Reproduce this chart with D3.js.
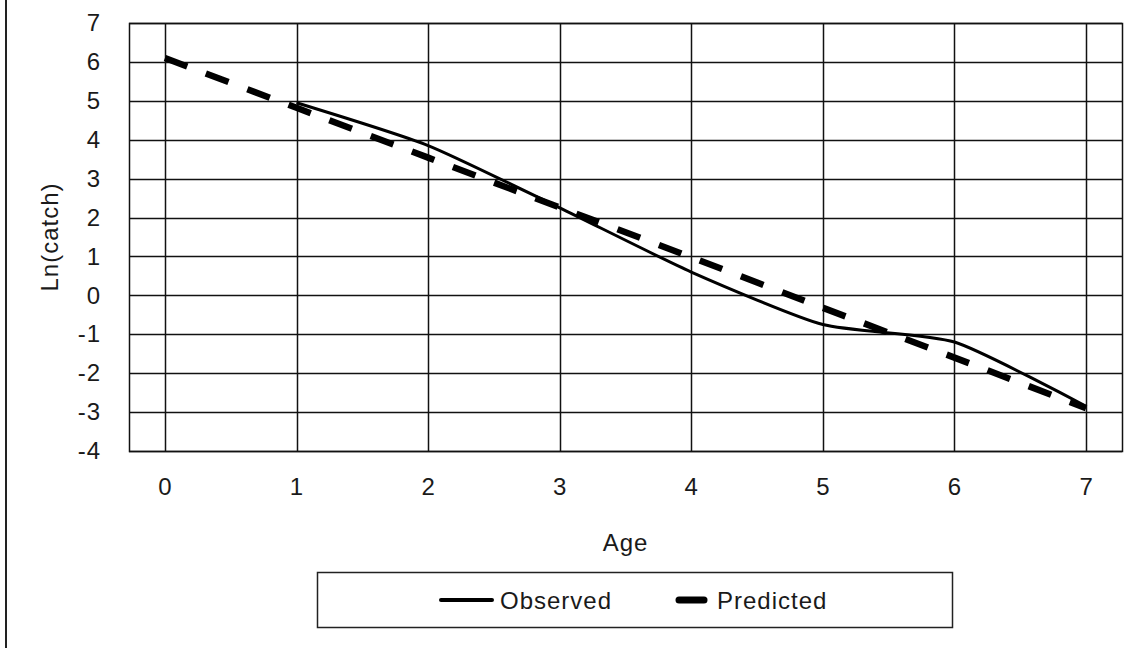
<!DOCTYPE html>
<html>
<head>
<meta charset="utf-8">
<script src="https://cdn.jsdelivr.net/npm/d3@7"></script>
<style>
  html, body { margin: 0; padding: 0; background: #fff; }
  svg { display: block; }
  text { font-family: "Liberation Sans", Arial, sans-serif; fill: #1a1a1a; }
</style>
</head>
<body>
<svg id="chart" width="1143" height="648"></svg>
<script>
// Age classes and log catch values
const ages = [0, 1, 2, 3, 4, 5, 6, 7];
const observedAges = [1, 2, 3, 4, 5, 6, 7];
const observed = [4.95, 3.85, 2.25, 0.6, -0.75, -1.2, -2.85];
const predicted = [6.1, 4.82, 3.54, 2.26, 0.98, -0.32, -1.6, -2.9];
const yTicks = [7, 6, 5, 4, 3, 2, 1, 0, -1, -2, -3, -4];
const xTicks = [0, 1, 2, 3, 4, 5, 6, 7];
const seriesNames = ["Observed", "Predicted"];

const svg = d3.select("#chart");
const W = 1143, H = 648;
const plot = { left: 129, top: 23, right: 1122, bottom: 451 };
const FONT = "24px";
const SPACING = "1px";

const x = d3.scaleLinear().domain([-0.273, 7.273]).range([plot.left, plot.right]);
const y = d3.scaleLinear().domain([-4, 7]).range([plot.bottom, plot.top]);

// outer chart frame (only its left edge falls inside the view)
svg.append("rect")
  .attr("x", 6).attr("y", -10).attr("width", W + 20).attr("height", H + 20)
  .attr("fill", "none").attr("stroke", "#222").attr("stroke-width", 2);

// grid lines
const grid = svg.append("g").attr("stroke", "#111").attr("stroke-width", 1.5);
grid.selectAll("line.h").data(yTicks).join("line")
  .attr("class", "h")
  .attr("x1", plot.left).attr("x2", plot.right)
  .attr("y1", d => Math.round(y(d)) + 0.5).attr("y2", d => Math.round(y(d)) + 0.5);
grid.selectAll("line.v").data(xTicks).join("line")
  .attr("class", "v")
  .attr("y1", plot.top).attr("y2", plot.bottom)
  .attr("x1", d => Math.round(x(d)) + 0.5).attr("x2", d => Math.round(x(d)) + 0.5);

// plot area border
svg.append("rect")
  .attr("x", plot.left + 0.5).attr("y", plot.top + 0.5)
  .attr("width", plot.right - plot.left).attr("height", plot.bottom - plot.top)
  .attr("fill", "none").attr("stroke", "#111").attr("stroke-width", 1.5);

const plainNumber = d => String(d);

// y tick labels
const yAxis = d3.axisLeft(y).tickValues(yTicks).tickSize(0).tickPadding(0).tickFormat(plainNumber);
const gy = svg.append("g").attr("transform", `translate(101,0)`).call(yAxis);
gy.select(".domain").remove();
gy.selectAll("text")
  .style("font-size", FONT).style("letter-spacing", SPACING)
  .style("font-family", "'Liberation Sans', Arial, sans-serif").attr("fill", "#1a1a1a");

// x tick labels
const xAxis = d3.axisBottom(x).tickValues(xTicks).tickSize(0).tickPadding(0).tickFormat(plainNumber);
const gx = svg.append("g").attr("transform", `translate(0,478)`).call(xAxis);
gx.select(".domain").remove();
gx.selectAll("text")
  .style("font-size", FONT).style("letter-spacing", SPACING)
  .style("font-family", "'Liberation Sans', Arial, sans-serif").attr("fill", "#1a1a1a");

// axis titles
svg.append("text")
  .attr("x", (plot.left + plot.right) / 2).attr("y", 551)
  .attr("text-anchor", "middle").style("font-size", FONT).style("letter-spacing", SPACING)
  .text("Age");
svg.append("text")
  .attr("transform", `translate(58,${(plot.top + plot.bottom) / 2}) rotate(-90)`)
  .attr("text-anchor", "middle").style("font-size", FONT).style("letter-spacing", SPACING)
  .text("Ln(catch)");

// series: smoothed lines
const line = d3.line().curve(d3.curveCardinal.tension(0.4))
  .x(d => x(d[0])).y(d => y(d[1]));

svg.append("path")
  .datum(ages.map((a, i) => [a, predicted[i]]))
  .attr("d", line)
  .attr("fill", "none").attr("stroke", "#000")
  .attr("stroke-width", 6.5).attr("stroke-dasharray", "24,20");

svg.append("path")
  .datum(observedAges.map((a, i) => [a, observed[i]]))
  .attr("d", line)
  .attr("fill", "none").attr("stroke", "#000")
  .attr("stroke-width", 3);

// legend
const legend = svg.append("g");
legend.append("rect")
  .attr("x", 317.5).attr("y", 572.5).attr("width", 635).attr("height", 55)
  .attr("fill", "#fff").attr("stroke", "#222").attr("stroke-width", 1.5);

legend.append("line")
  .attr("x1", 441).attr("x2", 492).attr("y1", 600).attr("y2", 600)
  .attr("stroke", "#000").attr("stroke-width", 4).attr("stroke-linecap", "round");
legend.append("text")
  .attr("x", 500).attr("y", 609).style("font-size", FONT).style("letter-spacing", SPACING)
  .text(seriesNames[0]);

legend.append("line")
  .attr("x1", 679).attr("x2", 704).attr("y1", 600).attr("y2", 600)
  .attr("stroke", "#000").attr("stroke-width", 7).attr("stroke-linecap", "round");
legend.append("text")
  .attr("x", 717).attr("y", 609).style("font-size", FONT).style("letter-spacing", SPACING)
  .text(seriesNames[1]);
</script>
</body>
</html>
